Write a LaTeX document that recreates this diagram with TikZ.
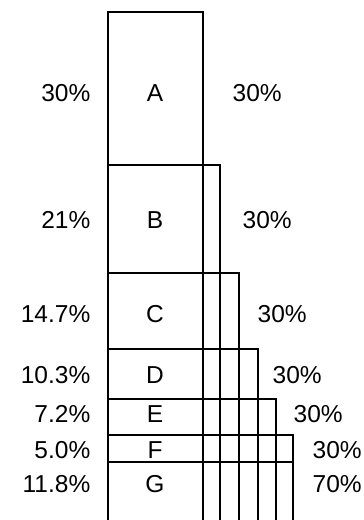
\documentclass[tikz,border=0pt]{standalone}
\usepackage{fontspec}
\setmainfont{Liberation Sans}
\usepackage{tikz}
\usetikzlibrary{positioning}

\begin{document}
\begin{tikzpicture}[
  x=1pt, y=-1pt,
  font=\fontsize{24.5}{28}\selectfont,
  line width=1.4pt,
  lett/.style = {inner sep=0pt},
  lpct/.style = {inner sep=0pt, anchor=east},
  rpct/.style = {inner sep=0pt, anchor=west}
]
\useasboundingbox (0,0) rectangle (364,520);
%% -- Stacked boxes (open at the bottom) --
\foreach \tp/\rt in {12/203,165/220,273/239,349/258,399/276,435/293,462/293}{
  \draw (108,520) -- (108,\tp) -- (\rt,\tp) -- (\rt,520);}
%% -- Letters and shares --
\foreach \nm/\y/\lp/\rx/\rp in {A/93/30\%/232/30\%,B/220/21\%/242/30\%,
    C/314/14.7\%/257/30\%,D/375/10.3\%/272/30\%,E/414/7.2\%/293/30\%,
    F/450/5.0\%/312/30\%,G/484/11.8\%/312/70\%}{
  \node[lett] (box\nm) at (155,\y) {\nm};
  \node[lpct] (lft\nm) at (91,\y) {\lp};
  \node[rpct] (rgt\nm) at (\rx,\y) {\rp};}
\end{tikzpicture}
\end{document}
